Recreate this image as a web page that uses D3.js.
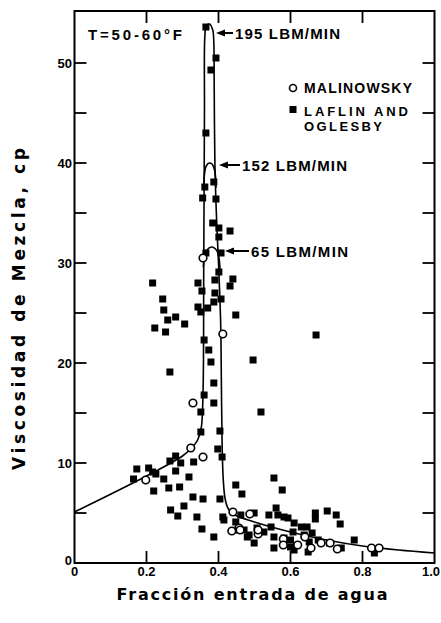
<!DOCTYPE html>
<html><head><meta charset="utf-8">
<script src="https://cdn.jsdelivr.net/npm/d3@7"></script>
<style>body{margin:0;background:#fff}svg{display:block}</style>
</head><body><svg id="c" width="441" height="623"></svg>
<script>
// ---- data ----
const xTicks = [0, 0.2, 0.4, 0.6, 0.8, 1.0];
const xTickLabels = ["0", "0.2", "0.4", "0.6", "0.8", "1.0"];
const yTicks = [0, 10, 20, 30, 40, 50];
const yMinorTicks = [5, 15, 25, 35, 45];

const malX = [0.198, 0.323, 0.357, 0.329, 0.412, 0.357, 0.44, 0.437, 0.457, 0.487, 0.51, 0.51, 0.46, 0.58, 0.58, 0.62, 0.64, 0.657, 0.685, 0.71, 0.73, 0.825, 0.846];
const malY = [8.3, 11.5, 10.6, 16.0, 22.9, 30.5, 5.1, 3.2, 3.5, 4.9, 2.9, 3.3, 3.3, 2.4, 1.8, 1.8, 2.6, 1.5, 2.0, 2.0, 1.4, 1.5, 1.5];

const lafX = [0.365,0.393,0.379,0.365,
 0.387,0.362,0.356,0.393,0.384,0.401,0.432,0.401,0.365,0.407,
 0.401,0.39,0.44,0.432,0.343,0.354,0.39,0.37,0.387,0.407,0.343,0.351,0.448,
 0.217,0.245,0.248,0.259,0.281,0.223,0.253,0.306,0.265,
 0.36,0.373,0.379,0.496,0.671,
 0.387,0.36,0.387,0.351,0.518,
 0.351,0.404,0.398,0.41,
 0.281,0.265,0.295,0.331,0.173,0.206,0.217,0.226,0.164,0.248,0.281,0.318,
 0.22,0.262,0.292,0.329,0.357,0.404,0.267,0.304,0.287,0.34,0.412,0.354,0.387,
 0.448,0.465,0.554,0.577,
 0.669,0.702,0.727,0.738,0.669,0.56,0.54,0.582,0.61,0.63,0.646,0.66,0.777,0.833,0.741,0.708,0.60,0.554,0.499,0.471,0.507,0.546,0.554,0.582,0.607,0.60,0.677,0.649,0.462,0.48,
 0.415,0.448,0.499,0.565,0.593,0.454,0.485,0.526,0.638,0.652,0.61];
const lafY = [53.6,50.5,49.3,43.0,
 38.1,37.6,36.5,36.4,34.0,33.5,33.2,32.6,31.0,31.0,
 29.1,28.3,28.4,27.7,28.0,27.2,27.0,25.5,26.1,26.4,25.6,25.1,24.8,
 28.0,26.4,25.3,24.3,24.6,23.5,23.1,23.9,19.1,
 22.3,21.3,20.1,20.3,22.8,
 18.0,16.8,16.0,15.1,15.1,
 13.1,13.2,11.4,10.6,
 10.7,10.2,10.0,10.1,9.4,9.5,9.1,8.9,8.4,8.4,9.2,8.6,
 7.2,7.5,7.6,6.6,6.4,6.4,5.3,5.7,4.7,4.6,4.6,3.4,2.6,
 7.8,6.9,8.5,7.3,
 5.0,5.2,4.8,3.9,4.4,5.5,4.8,4.6,4.0,3.6,3.6,3.0,2.3,1.0,1.5,2.0,1.6,1.5,2.0,3.3,3.5,3.6,2.6,2.5,3.1,2.3,2.3,1.1,4.8,2.6,
 4.3,4.1,5.0,4.8,4.5,3.3,2.8,3.1,2.8,2.1,1.3];

// fitted curve (195 LBM/MIN)
const curveX = [0, 0.2, 0.3, 0.325, 0.342, 0.352, 0.357, 0.359, 0.361, 0.362, 0.366, 0.375, 0.384, 0.387, 0.388, 0.390, 0.394, 0.40, 0.406, 0.408, 0.41, 0.413, 0.418, 0.426, 0.44, 0.5, 0.6, 0.7, 0.8, 0.9, 1.0];
const curveY = [5.1, 8.7, 10.7, 11.5, 12.3, 13.5, 17, 30, 45, 52.6, 53.7, 53.9, 53.3, 52, 48, 40, 35, 30, 24, 18, 12, 8.5, 6.5, 5.5, 4.9, 4.1, 3.1, 2.3, 1.7, 1.3, 1.0];
const cap152X = [0.359, 0.361, 0.366, 0.374, 0.382, 0.389, 0.392, 0.393];
const cap152Y = [37.5, 38.9, 39.7, 40.0, 39.9, 39.3, 38.5, 37.5];
const cap65X = [0.358, 0.361, 0.368, 0.38, 0.392, 0.4, 0.403, 0.404];
const cap65Y = [29.6, 30.6, 31.3, 31.6, 31.4, 30.8, 30.0, 29.4];

const seriesNames = ["MALINOWSKY", "LAFLIN AND", "OGLESBY"];
const flowLabels = ["195 LBM/MIN", "152 LBM/MIN", "65 LBM/MIN"];
const flowLabelY = [53.0, 39.8, 31.2];

// ---- drawing ----
const svg = d3.select("#c");
const x = d3.scaleLinear().domain([0, 1]).range([74.5, 434.5]);
const y = d3.scaleLinear().domain([0, 55.2]).range([563, 11]);
const font = "'Liberation Sans', Arial, sans-serif";

// frame
svg.append("rect").attr("x", x(0)).attr("y", y(55.2))
  .attr("width", x(1) - x(0)).attr("height", y(0) - y(55.2))
  .attr("fill", "none").attr("stroke", "#000").attr("stroke-width", 2);

// ticks
const tl = 12;
const inner = xTicks.filter(d => d > 0 && d < 1);
inner.forEach(d => {
  svg.append("line").attr("x1", x(d)).attr("x2", x(d)).attr("y1", y(0)).attr("y2", y(0) - tl).attr("stroke", "#000").attr("stroke-width", 1.8);
  svg.append("line").attr("x1", x(d)).attr("x2", x(d)).attr("y1", y(55.2)).attr("y2", y(55.2) + tl).attr("stroke", "#000").attr("stroke-width", 1.8);
});
yTicks.concat(yMinorTicks).filter(d => d > 0).forEach(d => {
  svg.append("line").attr("x1", x(0)).attr("x2", x(0) + tl).attr("y1", y(d)).attr("y2", y(d)).attr("stroke", "#000").attr("stroke-width", 1.8);
  svg.append("line").attr("x1", x(1)).attr("x2", x(1) - tl).attr("y1", y(d)).attr("y2", y(d)).attr("stroke", "#000").attr("stroke-width", 1.8);
});

// tick labels
svg.selectAll(".xl").data(xTicks).enter().append("text")
  .attr("x", d => d === 1 ? 440 : x(d)).attr("y", 576)
  .attr("text-anchor", d => d === 1 ? "end" : "middle")
  .attr("font-family", font).attr("font-weight", "bold").attr("font-size", 13)
  .text((d, i) => xTickLabels[i]);
svg.selectAll(".yl").data(yTicks).enter().append("text")
  .attr("x", 72).attr("y", d => y(d) + (d === 0 ? 2 : 5)).attr("text-anchor", "end")
  .attr("font-family", font).attr("font-weight", "bold").attr("font-size", 13)
  .text(d => d);

// axis titles
svg.append("text").attr("x", 252).attr("y", 600).attr("text-anchor", "middle")
  .attr("font-family", "'DejaVu Sans', sans-serif").attr("font-weight", "bold").attr("font-size", 16)
  .attr("textLength", 271).attr("lengthAdjust", "spacing")
  .text("Fracción entrada de agua");
svg.append("text").attr("transform", "translate(25,309) rotate(-90)").attr("text-anchor", "middle")
  .attr("font-family", "'DejaVu Sans', sans-serif").attr("font-weight", "bold").attr("font-size", 17)
  .attr("textLength", 322).attr("lengthAdjust", "spacing")
  .text("Viscosidad de Mezcla, cp");

// curves
const line = d3.line().x(d => x(d[0])).y(d => y(d[1])).curve(d3.curveCatmullRom.alpha(0.5));
[[curveX, curveY], [cap152X, cap152Y], [cap65X, cap65Y]].forEach(([cx, cy]) => {
  svg.append("path").attr("d", line(cx.map((v, i) => [v, cy[i]])))
    .attr("fill", "none").attr("stroke", "#000").attr("stroke-width", 1.6);
});

// squares
const sq = 7;
svg.selectAll(".sq").data(lafX.map((v, i) => [v, lafY[i]])).enter().append("rect")
  .attr("x", d => x(d[0]) - sq / 2).attr("y", d => y(d[1]) - sq / 2)
  .attr("width", sq).attr("height", sq).attr("fill", "#000");
// circles
svg.selectAll(".ci").data(malX.map((v, i) => [v, malY[i]])).enter().append("circle")
  .attr("cx", d => x(d[0])).attr("cy", d => y(d[1])).attr("r", 3.8)
  .attr("fill", "#fff").attr("stroke", "#000").attr("stroke-width", 1.6);

// annotations
const ann = (txt, tx, base, w, fs) => svg.append("text").attr("x", tx).attr("y", base)
  .attr("font-family", font).attr("font-weight", "bold").attr("font-size", fs || 15)
  .attr("textLength", w).attr("lengthAdjust", "spacing").text(txt);
ann("T=50-60°F", 88, 40, 94);

const arrow = (tip, tail, ay) => {
  svg.append("line").attr("x1", tip + 6).attr("x2", tail).attr("y1", ay).attr("y2", ay).attr("stroke", "#000").attr("stroke-width", 2);
  svg.append("path").attr("d", `M${tip},${ay} L${tip + 9},${ay - 3.5} L${tip + 9},${ay + 3.5} Z`).attr("fill", "#000");
};
const flowTip = [216, 219, 225];
const flowTail = [233, 240, 249];
const flowTextX = [235, 242, 251];
const flowW = [105, 105, 97];
flowLabels.forEach((t, i) => {
  const ay = y(flowLabelY[i]);
  arrow(flowTip[i], flowTail[i], ay);
  ann(t, flowTextX[i], ay + 5.5, flowW[i]);
});

// legend
svg.append("circle").attr("cx", 293).attr("cy", 88).attr("r", 3.5).attr("fill", "#fff").attr("stroke", "#000").attr("stroke-width", 1.6);
svg.append("rect").attr("x", 289.5).attr("y", 106).attr("width", 7).attr("height", 7).attr("fill", "#000");
ann(seriesNames[0], 304, 93, 108, 14);
ann(seriesNames[1], 304, 116, 104, 13);
ann(seriesNames[2], 304, 131, 78, 13);
</script>
</body></html>
